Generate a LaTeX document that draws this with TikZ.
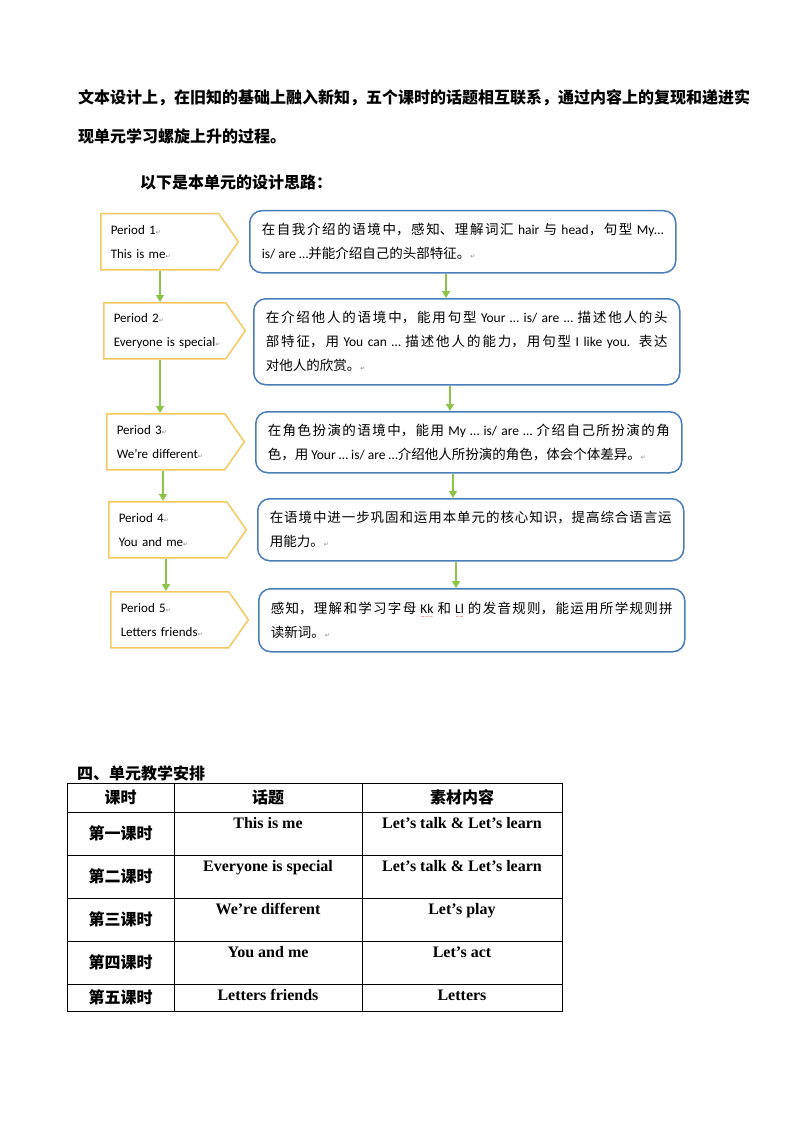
\documentclass[tikz,border=0pt]{standalone}
\usepackage{fontspec}
\setmainfont{Carlito}
\newfontfamily\cjk{Noto Sans CJK SC}
\newfontfamily\timesbf{Liberation Serif}
\newfontfamily\symb{DejaVu Sans}
\usetikzlibrary{arrows.meta,shapes.symbols}

% colours of the plan
\definecolor{periodgold}{RGB}{245,201,95}
\definecolor{aimblue}{RGB}{74,126,187}
\definecolor{stepgreen}{RGB}{140,196,72}

\newcommand\ret{{\symb\fontsize{6}{6}\selectfont\textcolor{gray}{↵}}}
\newcommand\zh[1]{{\cjk #1}}
\newcommand\redwave[1]{\leavevmode{\setbox0\hbox{#1}\rlap{\textcolor{red}{\lower5.5pt\hbox to\wd0{\symb\fontsize{4.5}{5}\selectfont\xleaders\hbox{∼}\hfill}}}\box0}}
% spread the characters of one line over a fixed width
\def\spread#1{\spreadfirst#1\relax}
\def\spreadfirst#1{#1\spreadrest}
\def\spreadrest#1{\ifx\relax#1\else\hfill#1\expandafter\spreadrest\fi}

\begin{document}
\begin{tikzpicture}[x=1pt,y=-1pt,
  period/.style={shape=signal, signal to=east, signal pointer angle=110,
    draw=periodgold, line width=1.5pt, anchor=north west,
    minimum height=56pt, text width=98pt, inner xsep=10pt,
    align=left, font=\fontsize{13}{24}\selectfont},
  aim/.style={draw=aimblue, line width=1.5pt, rounded corners=12pt,
    anchor=north west, minimum width=426pt, text width=402pt,
    align=justify, font=\fontsize{13.5}{24}\selectfont},
  flow/.style={draw=stepgreen, line width=2.2pt,
    -{Triangle[length=7pt,width=8pt]}},
  title/.style={inner sep=0pt, anchor=base west, font=\cjk\bfseries\fontsize{16}{39}\selectfont},
  lesson/.style={inner sep=0pt, font=\cjk\bfseries\fontsize{16}{18}\selectfont},
  topic/.style={inner sep=0pt, anchor=base, font=\timesbf\bfseries\fontsize{16}{18}\selectfont},
  grid/.style={draw=black, line width=0.9pt}
  ]
\useasboundingbox (0,0) rectangle (794,1123);
\fill[white] (0,0) rectangle (794,1123);

% opening text
\node[title] (intro) at (78,104)
  {\hbox to 670pt{\spread{文本设计上，在旧知的基础上融入新知，五个课时的话题相互联系，通过内容上的复现和递进实}}};
\node[title] (intro2) at (78,143) {现单元学习螺旋上升的过程。};
\node[title] (idea) at (140,189) {以下是本单元的设计思路：};

% periods
\node[period] (p1) at (100,213) {Period 1\ret\\This is me\ret};
\node[period, text width=102pt] (p2) at (103,302) {Period 2\ret\\\mbox{Everyone is special\ret}};
\node[period] (p3) at (106,413) {Period 3\ret\\We’re different\ret};
\node[period] (p4) at (108,501) {Period 4\ret\\You and me\ret};
\node[period] (p5) at (110,591) {Period 5\ret\\Letters friends\ret};

% aims
\node[aim, minimum height=62pt] (b1) at (249,210)
  {\XeTeXlinebreaklocale "zh"\XeTeXlinebreakskip=0pt plus 2pt
   \zh{在自我介绍的语境中，感知、理解词汇} hair \zh{与} head\zh{，句型} My…\linebreak
   is/ are …\zh{并能介绍自己的头部特征。}\ret};
\node[aim, minimum height=86pt] (b2) at (253,298)
  {\XeTeXlinebreaklocale "zh"\XeTeXlinebreakskip=0pt plus 2pt
   \zh{在介绍他人的语境中，能用句型} Your … is/ are … \zh{描述他人的头}\linebreak
   \zh{部特征，用} You can … \zh{描述他人的能力，用句型} I like you. \zh{表达}\linebreak
   \zh{对他人的欣赏。}\ret};
\node[aim, minimum height=61pt] (b3) at (255,411)
  {\XeTeXlinebreaklocale "zh"\XeTeXlinebreakskip=0pt plus 2pt
   \zh{在角色扮演的语境中，能用} My … is/ are … \zh{介绍自己所扮演的角}\linebreak
   \zh{色，用} Your … is/ are …\zh{介绍他人所扮演的角色，体会个体差异。}\ret};
\node[aim, minimum height=62pt] (b4) at (257,498)
  {\XeTeXlinebreaklocale "zh"\XeTeXlinebreakskip=0pt plus 2pt
   \zh{在语境中进一步巩固和运用本单元的核心知识，提高综合语言运}\linebreak
   \zh{用能力。}\ret};
\node[aim, minimum height=63pt] (b5) at (258,588)
  {\XeTeXlinebreaklocale "zh"\XeTeXlinebreakskip=0pt plus 2pt
   \zh{感知，理解和学习字母} \redwave{Kk} \zh{和} \redwave{Ll} \zh{的发音规则，能运用所学规则拼}\linebreak
   \zh{读新词。}\ret};

% arrows
\foreach \a/\b/\dx in {p1/p2/60, p2/p3/57, p3/p4/57, p4/p5/58}
  \draw[flow] ([xshift=\dx pt]\a.south west) -- ([xshift=\dx pt]\a.south west |- \b.north);
\foreach \a/\b/\dx in {b1/b2/197, b2/b3/197, b3/b4/198, b4/b5/199}
  \draw[flow] ([xshift=\dx pt]\a.south west) -- ([xshift=\dx pt]\a.south west |- \b.north);

% schedule table
\node[title] (plan) at (77,779) {四、单元教学安排};
\draw[grid] (67,783) rectangle (562,1011);
\foreach \ry in {812,855,898,941,984}
  \draw[grid] (67,\ry) -- (562,\ry);
\draw[grid] (174,783) -- (174,1011) (362,783) -- (362,1011);
\node[lesson] (h1) at (120.5,797) {课时};
\node[lesson] (h2) at (268,797) {话题};
\node[lesson] (h3) at (462,797) {素材内容};
\foreach \ry/\zy/\cn/\theme/\src [count=\i] in
  {812/833/第一课时/This is me/Let’s talk \& Let’s learn,
   855/876/第二课时/Everyone is special/Let’s talk \& Let’s learn,
   898/919/第三课时/We’re different/Let’s play,
   941/962/第四课时/You and me/Let’s act,
   984/997/第五课时/Letters friends/Letters}
{
  \node[lesson] (k\i) at (120.5,\zy) {\cn};
  \node[topic] (t\i) at (268,\ry+16) {\theme};
  \node[topic] (m\i) at (462,\ry+16) {\src};
}
\end{tikzpicture}
\end{document}
